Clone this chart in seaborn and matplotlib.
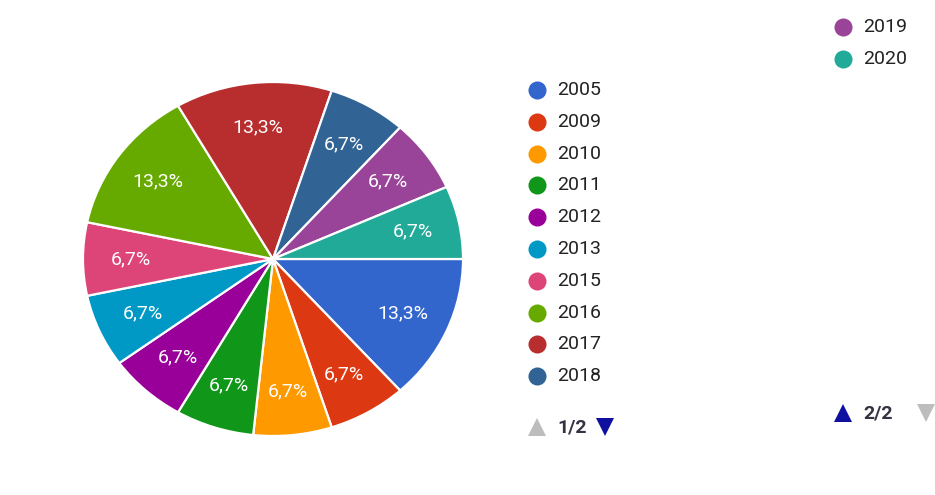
import matplotlib
matplotlib.use("Agg")
import matplotlib.pyplot as plt
import seaborn as sns

# Responses per year
years = ["2005", "2009", "2010", "2011", "2012", "2013",
         "2015", "2016", "2017", "2018", "2019", "2020"]
counts = [2, 1, 1, 1, 1, 1, 1, 2, 2, 1, 1, 1]
colors = ["#3366CC", "#DC3912", "#FF9900", "#109618", "#990099", "#0099C6",
          "#DD4477", "#66AA00", "#B82E2E", "#316395", "#994499", "#22AA99"]
page_labels = ["1/2", "2/2"]
per_page = 10

sns.set_theme(style="white")
plt.rcParams["font.family"] = ["Roboto", "DejaVu Sans"]
palette = sns.color_palette(colors)

W, H = 935, 495
fig = plt.figure(figsize=(W / 100, H / 100), dpi=100)
fig.patch.set_facecolor("white")

# Pie area (pixel box converted to figure fractions)
cx, cy, rx, ry = 273, 259, 190, 177
ax = fig.add_axes([(cx - rx) / W, (H - cy - ry) / H, 2 * rx / W, 2 * ry / H])
wedges, texts, autotexts = ax.pie(
    counts,
    colors=palette,
    startangle=0,
    counterclock=False,
    autopct=lambda p: f"{p:.1f}%".replace(".", ","),
    pctdistance=0.75,
    wedgeprops=dict(edgecolor="white", linewidth=1.6),
    textprops=dict(color="white", fontsize=14),
)
ax.set_xlim(-1.0, 1.0)
ax.set_ylim(-1.0, 1.0)
ax.set_aspect("auto")
ax.axis("off")

# Overlay in pixel coordinates for the paged legend
lg = fig.add_axes([0, 0, 1, 1])
lg.set_xlim(0, W)
lg.set_ylim(H, 0)
lg.axis("off")

text_color = "#222222"
inactive = "#BDBDBD"
active = "#1010A0"

def draw_page(items, item_colors, x0, y0, step, pager_y, label, up_on, down_on, down_x):
    for i, (name, col) in enumerate(zip(items, item_colors)):
        y = y0 + i * step
        lg.plot([x0], [y], marker="o", markersize=13, color=col,
                markeredgewidth=0, linestyle="none")
        lg.text(x0 + 20, y, name, fontsize=14, color=text_color,
                va="center", ha="left")
    lg.plot([x0], [pager_y], marker="^", markersize=13,
            color=active if up_on else inactive, markeredgewidth=0)
    lg.text(x0 + 20, pager_y, label, fontsize=14, color="#333344",
            fontweight="bold", va="center", ha="left")
    lg.plot([down_x], [pager_y], marker="v", markersize=13,
            color=active if down_on else inactive, markeredgewidth=0)

draw_page(years[:per_page], colors[:per_page], 537, 90, 31.8, 427,
          page_labels[0], False, True, 605)
draw_page(years[per_page:], colors[per_page:], 843, 27, 31.8, 413,
          page_labels[1], True, False, 926)

fig.savefig("out.png", dpi=100, facecolor="white")
